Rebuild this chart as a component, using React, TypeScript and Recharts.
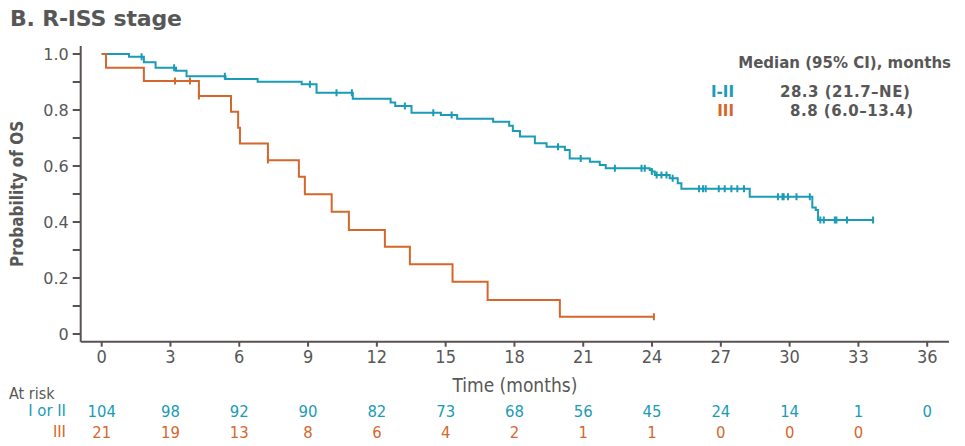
import {
  ComposedChart,
  Line,
  Scatter,
  XAxis,
  YAxis,
} from 'recharts'

// Kaplan-Meier step points (time in months, survival probability)
const EVENT_T_12 = [0, 1.19, 1.84, 2.35, 3.24, 3.7, 5.4, 6.8, 8.72, 9.37, 10.95, 12.6, 12.8, 13.51, 14.79, 15.5, 17.07, 17.77, 17.93, 18.24, 18.89, 19.4, 20.2, 20.41, 21.29, 21.72, 21.98, 23.9, 23.99, 24.12, 24.77, 25.12, 25.28, 28.26, 30.99, 31.14, 31.24, 33.64]
const SURV_12 = [1.0, 0.99, 0.971, 0.951, 0.94, 0.921, 0.911, 0.901, 0.892, 0.862, 0.84, 0.827, 0.814, 0.79, 0.782, 0.769, 0.758, 0.744, 0.725, 0.705, 0.681, 0.669, 0.657, 0.627, 0.615, 0.604, 0.592, 0.586, 0.58, 0.568, 0.556, 0.538, 0.519, 0.49, 0.452, 0.443, 0.407, 0.407]
const CENSOR_T_12 = [1.74, 3.16, 5.37, 9.08, 10.24, 10.91, 13.22, 14.46, 15.26, 19.9, 20.89, 22.38, 23.54, 23.68, 23.99, 24.2, 24.41, 24.63, 24.9, 26.05, 26.22, 26.34, 26.91, 27.17, 27.46, 27.72, 28.01, 29.49, 29.69, 29.74, 29.93, 30.3, 30.88, 31.34, 31.49, 31.97, 32.04, 32.5, 33.64]

const EVENT_T_3 = [0, 0.19, 1.84, 4.24, 5.64, 5.95, 6.03, 7.25, 8.6, 8.86, 10.03, 10.78, 12.35, 13.44, 15.3, 16.83, 19.98, 24.08]
const SURV_3 = [1.0, 0.951, 0.904, 0.85, 0.794, 0.737, 0.68, 0.621, 0.562, 0.499, 0.437, 0.371, 0.312, 0.249, 0.187, 0.121, 0.062, 0.062]
const CENSOR_T_3 = [3.2, 3.85, 4.24, 7.25, 24.08]

const X_TICKS = [0, 3, 6, 9, 12, 15, 18, 21, 24, 27, 30, 33, 36]
const Y_TICKS = [0, 0.1, 0.2, 0.3, 0.4, 0.5, 0.6, 0.7, 0.8, 0.9, 1.0]
const AT_RISK_12 = ['104', '98', '92', '90', '82', '73', '68', '56', '45', '24', '14', '1', '0']
const AT_RISK_3 = ['21', '19', '13', '8', '6', '4', '2', '1', '1', '0', '0', '0', '']

const BLUE = '#1a9bb6'
const ORANGE = '#d4672b'
const GREY = '#575757'
const AXIS = '#5a5252'
const COND = "'DejaVu Sans Condensed', 'DejaVu Sans', sans-serif"
const WIDE = "'DejaVu Sans', Verdana, sans-serif"

const toSteps = (ts: number[], ss: number[]) => ts.map((t, i) => ({ t, s: ss[i] }))

// place a censor mark on the curve: value of the last event at or before t
const toCensors = (cs: number[], ts: number[], ss: number[]) =>
  cs.map((t) => {
    let s = ss[0]
    ts.forEach((et, i) => {
      if (et <= t) s = ss[i]
    })
    return { t, s }
  })

const steps12 = toSteps(EVENT_T_12, SURV_12)
const steps3 = toSteps(EVENT_T_3, SURV_3)
const cens12 = toCensors(CENSOR_T_12, EVENT_T_12, SURV_12)
const cens3 = toCensors(CENSOR_T_3, EVENT_T_3, SURV_3)
// invisible anchor points so the at-risk axes get a domain
const riskAnchor = X_TICKS.map((t) => ({ t, s: 0.5 }))

const censorShape = (color: string) => (p: any) => (
  <line x1={p.cx} x2={p.cx} y1={p.cy - 3.5} y2={p.cy + 3.5} stroke={color} strokeWidth={2} />
)

const riskTick = (counts: string[], color: string) => (p: any) => {
  const i = X_TICKS.indexOf(p.payload.value)
  return (
    <text x={p.x} y={p.y + 23} textAnchor="middle" fill={color} fontSize={16.5} fontFamily={COND}>
      {counts[i] ?? ''}
    </text>
  )
}

const X_DOMAIN = [-0.915, 36.95]

export default function App() {
  return (
    <div style={{ position: 'absolute', left: 0, top: 0, width: 965, height: 446, background: '#fff', fontFamily: WIDE }}>
      <ComposedChart
        width={965}
        height={446}
        margin={{ top: 46, right: 16, bottom: 0, left: 0 }}
      >
        <XAxis
          dataKey="t"
          type="number"
          domain={X_DOMAIN}
          ticks={X_TICKS}
          allowDataOverflow
          height={52}
          stroke={AXIS}
          strokeWidth={2}
          tickSize={5}
          tickMargin={4}
          tick={{ fontSize: 18, fill: GREY, fontFamily: COND }}
          label={{ value: 'Time (months)', position: 'insideBottom', offset: 2, fill: GREY, fontSize: 19, fontFamily: COND }}
        />
        <XAxis
          xAxisId="r1"
          dataKey="t"
          type="number"
          domain={X_DOMAIN}
          ticks={X_TICKS}
          allowDataOverflow
          height={21}
          axisLine={false}
          tickLine={false}
          tickSize={0}
          tickMargin={0}
          tick={riskTick(AT_RISK_12, BLUE)}
        />
        <XAxis
          xAxisId="r2"
          dataKey="t"
          type="number"
          domain={X_DOMAIN}
          ticks={X_TICKS}
          allowDataOverflow
          height={31.3}
          axisLine={false}
          tickLine={false}
          tickSize={0}
          tickMargin={0}
          tick={riskTick(AT_RISK_3, ORANGE)}
        />
        <YAxis
          type="number"
          domain={[-0.0275, 1.0286]}
          ticks={Y_TICKS}
          allowDataOverflow
          width={80.7}
          stroke={AXIS}
          strokeWidth={2}
          tickSize={8}
          tickMargin={4}
          tick={{ fontSize: 16, fill: GREY, fontFamily: WIDE }}
          tickFormatter={(v: number) => {
            const k = Math.round(v * 10)
            if (k === 0) return '0'
            return k % 2 === 0 ? v.toFixed(1) : ''
          }}
          label={{
            value: 'Probability of OS',
            angle: -90,
            position: 'insideLeft',
            offset: 17,
            fill: GREY,
            fontSize: 17,
            fontWeight: 'bold',
            fontFamily: COND,
            style: { textAnchor: 'middle' },
          }}
        />
        <Line data={steps12} dataKey="s" type="stepAfter" stroke={BLUE} strokeWidth={2} dot={false} isAnimationActive={false} />
        <Line data={steps3} dataKey="s" type="stepAfter" stroke={ORANGE} strokeWidth={2} dot={false} isAnimationActive={false} />
        <Scatter data={cens12} dataKey="s" shape={censorShape(BLUE)} isAnimationActive={false} />
        <Scatter data={cens3} dataKey="s" shape={censorShape(ORANGE)} isAnimationActive={false} />
        <Scatter xAxisId="r1" data={riskAnchor} dataKey="s" shape={() => <g />} isAnimationActive={false} />
        <Scatter xAxisId="r2" data={riskAnchor} dataKey="s" shape={() => <g />} isAnimationActive={false} />
      </ComposedChart>

      <div style={{ position: 'absolute', left: 10, top: 7.5, fontSize: 22, lineHeight: '22px', fontWeight: 'bold', color: GREY, letterSpacing: -0.2 }}>
        B. R-ISS stage
      </div>

      <div style={{ position: 'absolute', right: 14, top: 55.5, fontSize: 15, lineHeight: '15px', fontWeight: 'bold', color: GREY, whiteSpace: 'nowrap' }}>
        Median (95% CI), months
      </div>
      <div style={{ position: 'absolute', right: 231, top: 85, fontSize: 15, lineHeight: '15px', fontWeight: 'bold', color: BLUE }}>I-II</div>
      <div style={{ position: 'absolute', left: 780, top: 85, fontSize: 15, lineHeight: '15px', fontWeight: 'bold', color: GREY, whiteSpace: 'nowrap', letterSpacing: 0.5 }}>
        28.3 (21.7–NE)
      </div>
      <div style={{ position: 'absolute', right: 231, top: 104, fontSize: 15, lineHeight: '15px', fontWeight: 'bold', color: ORANGE }}>III</div>
      <div style={{ position: 'absolute', left: 790, top: 104, fontSize: 15, lineHeight: '15px', fontWeight: 'bold', color: GREY, whiteSpace: 'nowrap', letterSpacing: 0.5 }}>
        8.8 (6.0–13.4)
      </div>

      <div style={{ position: 'absolute', left: 9, top: 387, fontSize: 16, lineHeight: '14px', color: GREY, fontFamily: COND }}>At risk</div>
      <div style={{ position: 'absolute', right: 899, top: 404, fontSize: 16.5, lineHeight: '14px', color: BLUE, fontFamily: COND }}>I or II</div>
      <div style={{ position: 'absolute', right: 899, top: 425, fontSize: 16.5, lineHeight: '14px', color: ORANGE, fontFamily: COND }}>III</div>
    </div>
  )
}
